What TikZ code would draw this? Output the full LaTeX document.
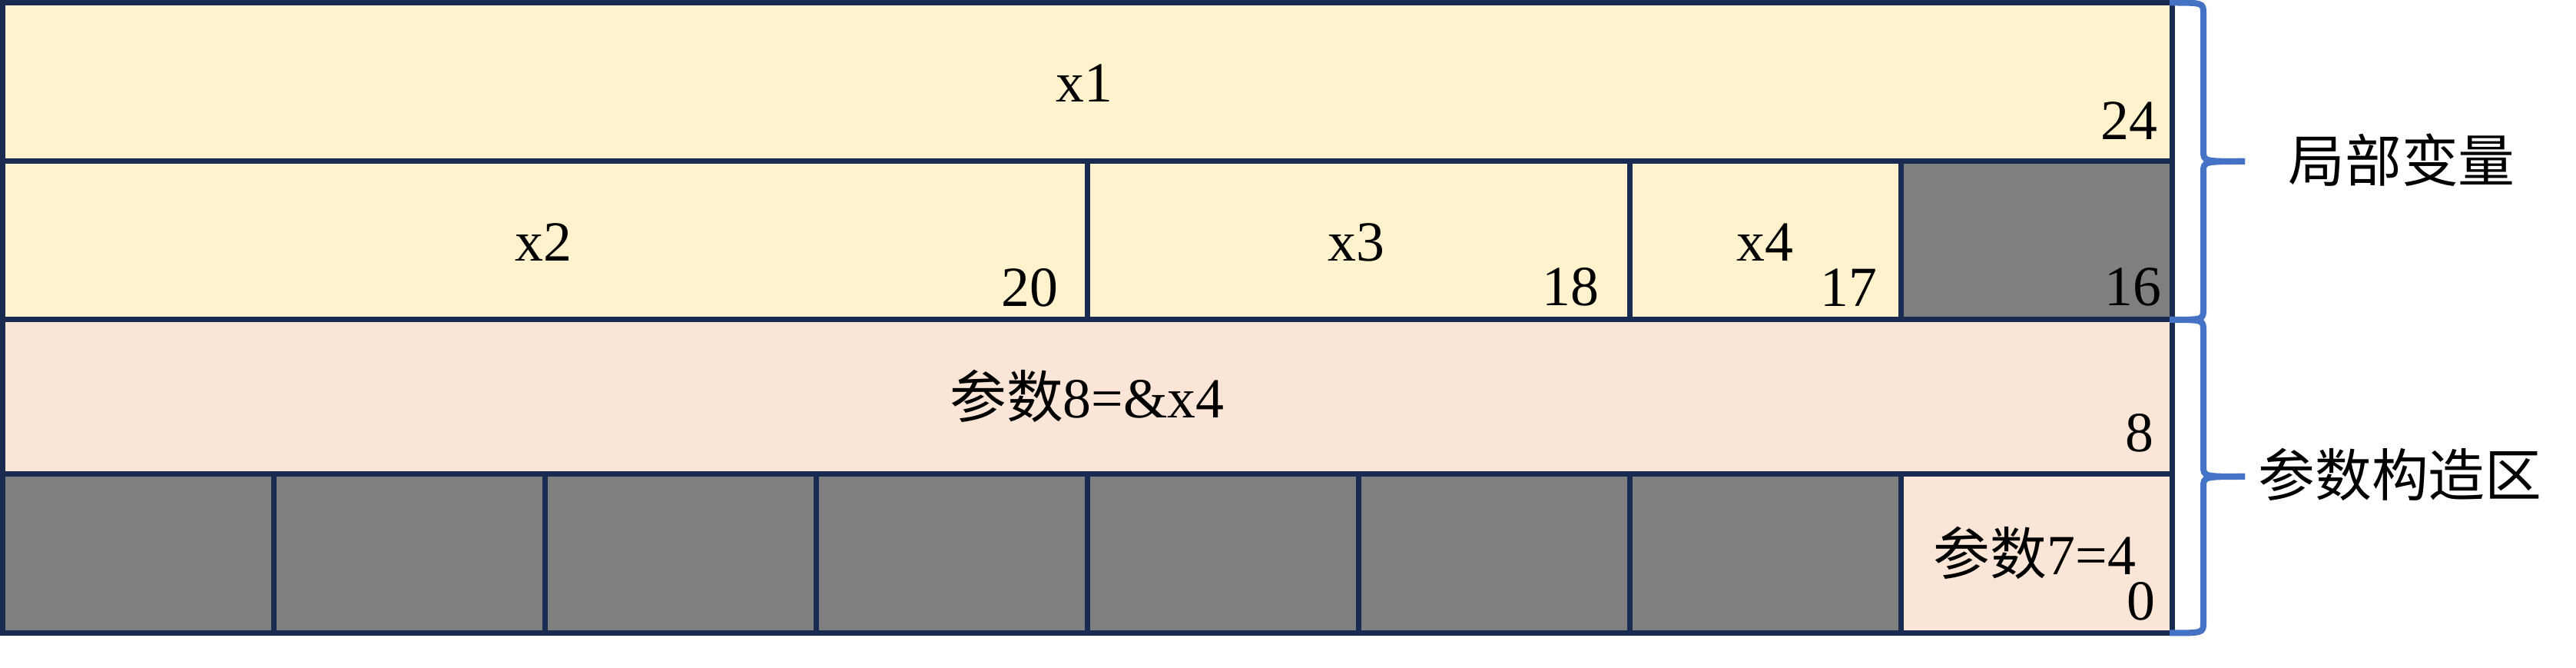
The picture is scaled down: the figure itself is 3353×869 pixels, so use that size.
\documentclass[tikz,border=0pt]{standalone}
\usepackage{fontspec}
\setmainfont{Liberation Serif}
\newfontfamily\cjk{Noto Sans CJK SC}
\definecolor{edgec}{HTML}{1A2B52}
\definecolor{yel}{HTML}{FFF2CC}
\definecolor{pnk}{HTML}{FBE5D6}
\definecolor{gry}{HTML}{7F7F7F}
\definecolor{bracec}{HTML}{4472C4}
\begin{document}
\begin{tikzpicture}[x=0.1mm,y=-0.1mm,
  cell/.style={draw=edgec, line width=0.7mm, rectangle, inner sep=0pt, outer sep=0pt},
  lbl/.style={inner sep=0pt, outer sep=0pt, font=\fontsize{21pt}{25pt}\selectfont},
  bracepath/.style={draw=bracec, line width=0.8mm}]
\useasboundingbox (0,0) rectangle (3353,869);
% row 1
\node[cell, fill=yel, minimum width=282.4mm, minimum height=20.65mm] (r1) at (1415.5,106.75) {};
% row 2
\node[cell, fill=yel, minimum width=141.2mm, minimum height=20.6mm] (r2a) at (709.5,313) {};
\node[cell, fill=yel, minimum width=70.6mm, minimum height=20.6mm] (r2b) at (1768.5,313) {};
\node[cell, fill=yel, minimum width=35.3mm, minimum height=20.6mm] (r2c) at (2298,313) {};
\node[cell, fill=gry, minimum width=35.3mm, minimum height=20.6mm] (r2d) at (2651,313) {};
% row 3
\node[cell, fill=pnk, minimum width=282.4mm, minimum height=20.05mm] (r3) at (1415.5,516.25) {};
% row 4
\foreach \i/\cx in {1/180,2/533,3/886,4/1239,5/1592,6/1945,7/2298}{
  \node[cell, fill=gry, minimum width=35.3mm, minimum height=20.7mm] (r4\i) at (\cx,720) {};
}
\node[cell, fill=pnk, minimum width=35.3mm, minimum height=20.7mm] (r48) at (2651,720) {};
% labels
\node[lbl, anchor=base] (tx1) at (1411,133) {x1};
\node[lbl, anchor=base east] (t24) at (2808,182) {24};
\node[lbl, anchor=base] (tx2) at (707,340) {x2};
\node[lbl, anchor=base east] (t20) at (1377,399) {20};
\node[lbl, anchor=base] (tx3) at (1765,340) {x3};
\node[lbl, anchor=base east] (t18) at (2081,398) {18};
\node[lbl, anchor=base] (tx4) at (2297,340) {x4};
\node[lbl, anchor=base east] (t17) at (2443,399) {17};
\node[lbl, anchor=base east] (t16) at (2813,398) {16};
\node[lbl, anchor=base] (tp8) at (1415,544) {{\cjk 参数}8=\&x4};
\node[lbl, anchor=base east] (t8) at (2803,588) {8};
\node[lbl, anchor=base east] (tp7) at (2780,748) {{\cjk 参数}7=4};
\node[lbl, anchor=base east] (t0) at (2805,807) {0};
\node[lbl, font=\cjk\fontsize{21pt}{25pt}\selectfont] (tlocal) at (3126,208) {局部变量};
\node[lbl, font=\cjk\fontsize{21pt}{25pt}\selectfont] (targ) at (3124,617) {参数构造区};
% braces
\draw[bracepath] (2824,3.5) .. controls (2868,3.5) and (2868,3.5) .. (2868,18) -- (2868,196) .. controls (2868,210) and (2868,210) .. (2922,210);
\draw[bracepath] (2922,210) .. controls (2868,210) and (2868,210) .. (2868,224) -- (2868,402) .. controls (2868,416) and (2868,416) .. (2824,416);
\draw[bracepath] (2824,416) .. controls (2868,416) and (2868,416) .. (2868,430) -- (2868,606) .. controls (2868,620) and (2868,620) .. (2922,620);
\draw[bracepath] (2922,620) .. controls (2868,620) and (2868,620) .. (2868,634) -- (2868,809.5) .. controls (2868,823.5) and (2868,823.5) .. (2824,823.5);
\end{tikzpicture}
\end{document}
